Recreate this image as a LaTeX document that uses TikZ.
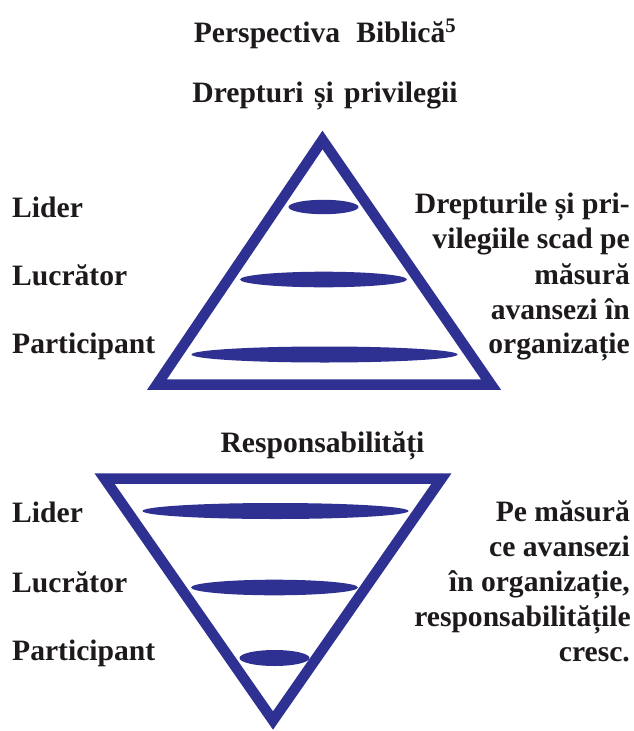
\documentclass[tikz,border=0pt]{standalone}
\usepackage{fontspec}
\setmainfont{Liberation Serif}
\definecolor{navy}{HTML}{2E3192}
\definecolor{ink}{HTML}{1E1A1B}
\begin{document}
\begin{tikzpicture}[x=1pt,y=-1pt,
  txt/.style={inner sep=0pt,text=ink,font=\fontsize{29.6}{35}\selectfont\bfseries},
  lbl/.style={txt,anchor=base west},
  rgt/.style={txt,anchor=base east},
  ttl/.style={txt,anchor=base},
  tri/.style={draw=navy,line width=10.5pt,line join=miter},
  bar/.style={fill=navy}]
\useasboundingbox (0,0) rectangle (634,731);
% titles
\node[ttl] (title) at (325,42) {Perspectiva\hspace{0.55em}Biblică\textsuperscript{5}};
\node[ttl] (drept) at (325,102) {Drepturi\hspace{0.1em} și\hspace{0.1em} privilegii};
\node[ttl] (resp) at (322.5,452) {Responsabilități};
% upper triangle
\draw[tri] (322.5,140) -- (157,384.5) -- (491,384.5) -- cycle;
\fill[bar] (323.5,207) ellipse [x radius=35, y radius=7.2];
\fill[bar] (323.5,279.5) ellipse [x radius=83.5, y radius=7.8];
\fill[bar] (324.5,354.5) ellipse [x radius=133, y radius=8];
% lower triangle
\draw[tri] (104.5,478.5) -- (441.5,478.5) -- (273,720.5) -- cycle;
\fill[bar] (275.5,511) ellipse [x radius=133, y radius=8];
\fill[bar] (274.5,587.5) ellipse [x radius=83.5, y radius=7.8];
\fill[bar] (274.5,658) ellipse [x radius=35, y radius=8];
% left labels
\node[lbl] (l1) at (12,217) {Lider};
\node[lbl] (l2) at (12,285) {Lucrător};
\node[lbl] (l3) at (12,353) {Participant};
\node[lbl] (m1) at (12,522) {Lider};
\node[lbl] (m2) at (12,592) {Lucrător};
\node[lbl] (m3) at (12,660) {Participant};
% right texts upper
\node[rgt] (r1) at (630,213) {Drepturile și pri-};
\node[rgt] (r2) at (630,248) {vilegiile scad pe};
\node[rgt] (r3) at (630,284) {măsură};
\node[rgt] (r4) at (630,319) {avansezi în};
\node[rgt] (r5) at (630,353) {organizație};
% right texts lower
\node[rgt] (s1) at (630,521) {Pe măsură};
\node[rgt] (s2) at (630,556) {ce avansezi};
\node[rgt] (s3) at (630,591) {în organizație,};
\node[rgt] (s4) at (631,626) {responsabilitățile};
\node[rgt] (s5) at (630,661) {cresc.};
\end{tikzpicture}
\end{document}
